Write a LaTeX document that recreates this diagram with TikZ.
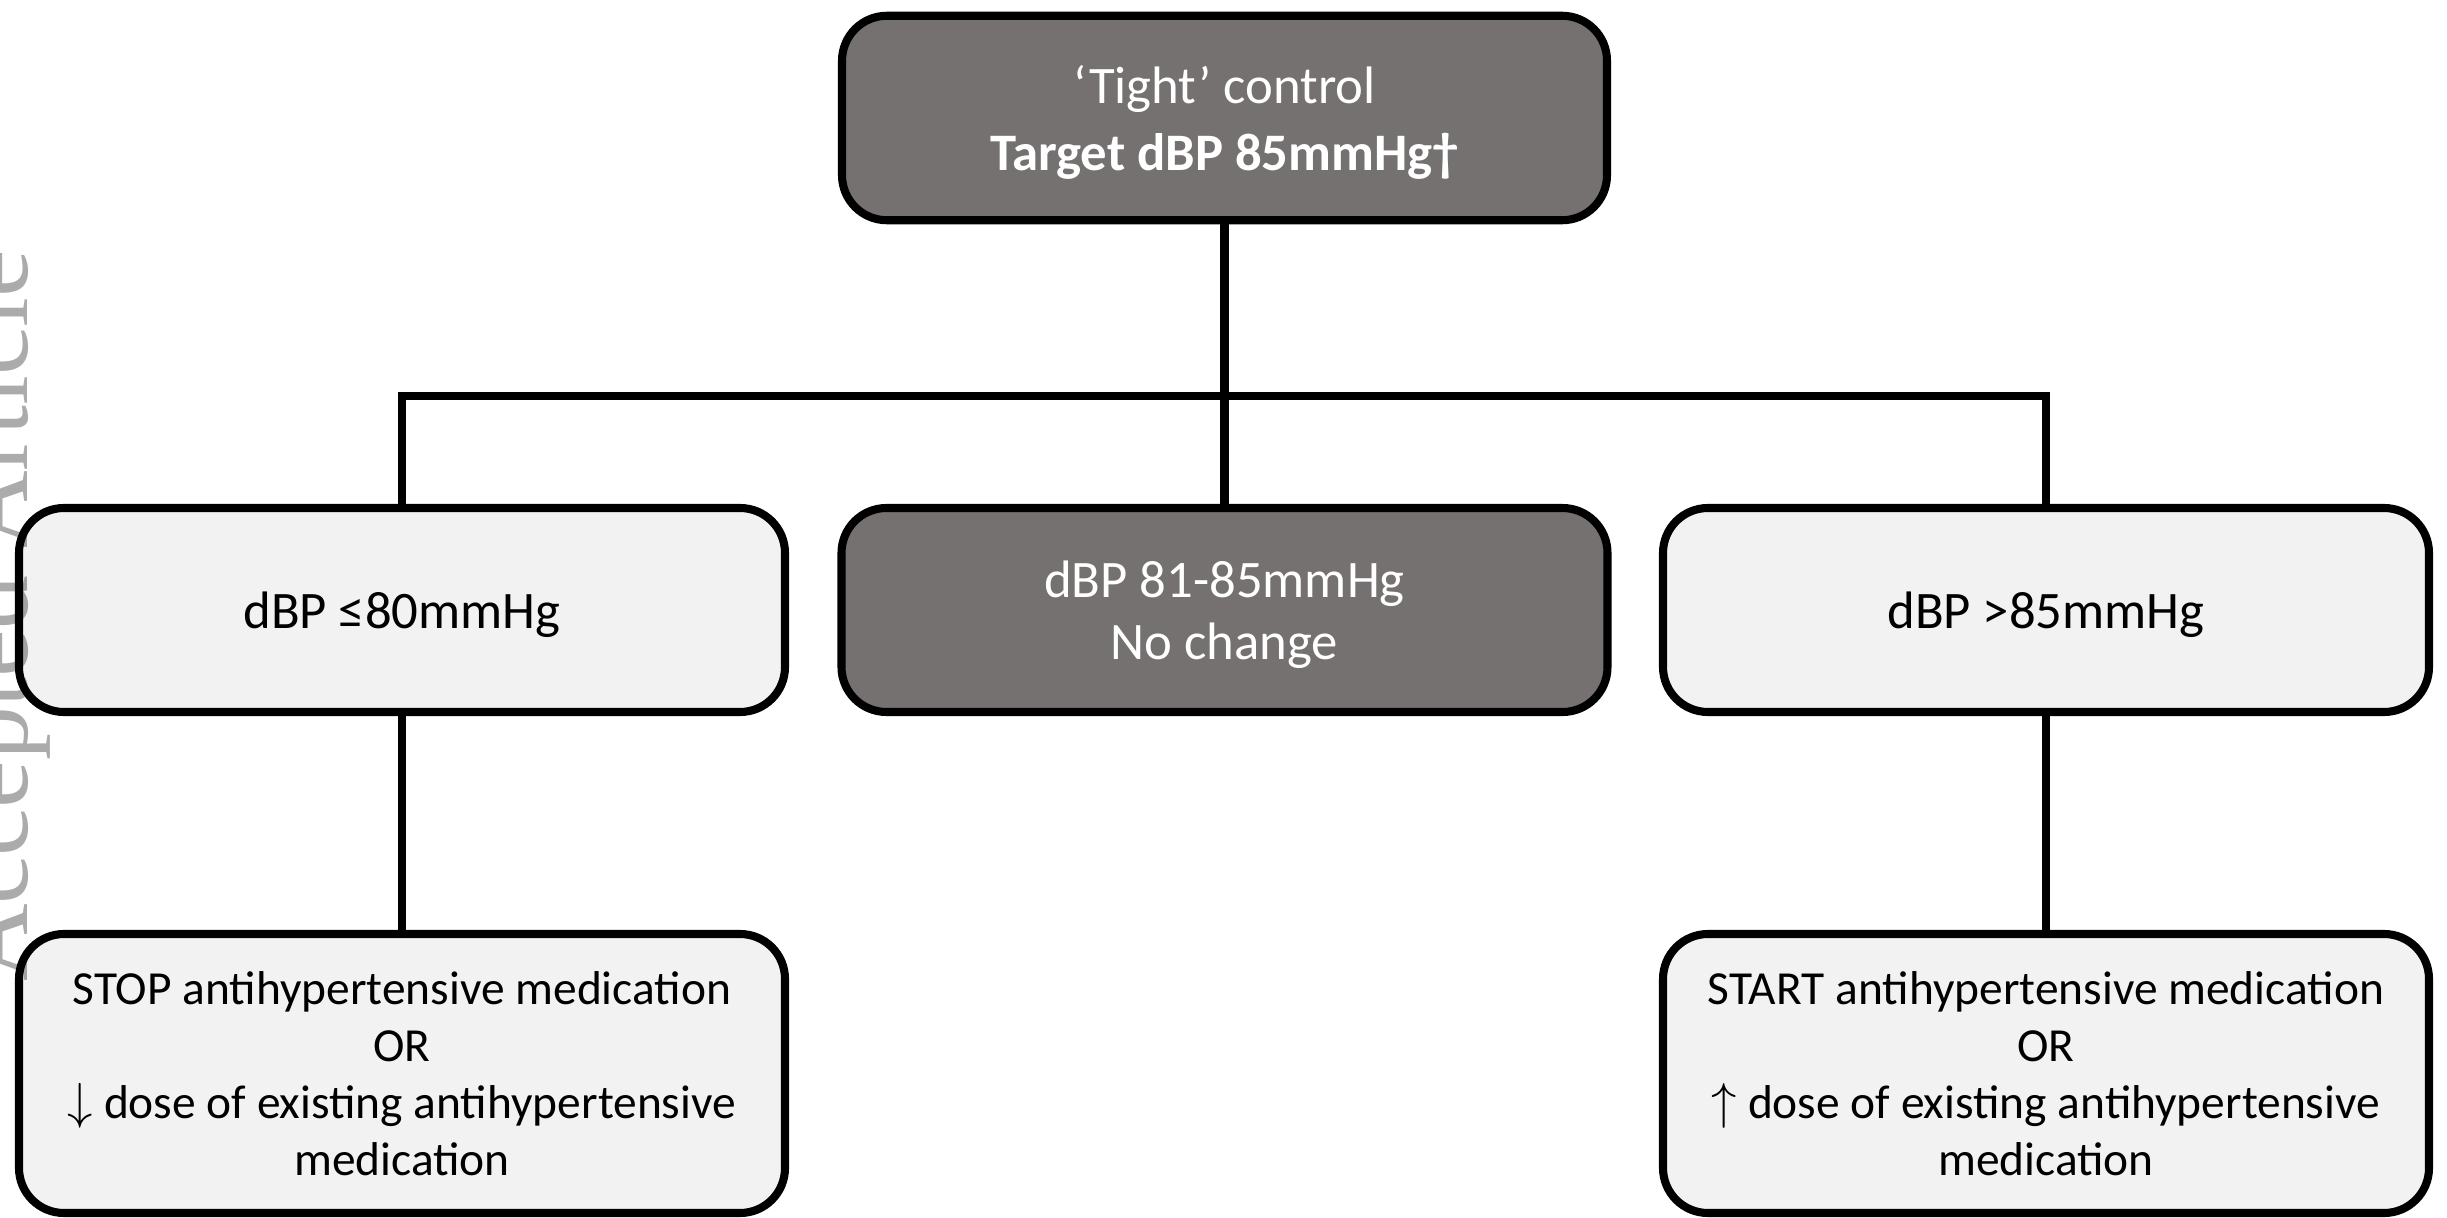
\documentclass[tikz,border=0pt]{standalone}
\usepackage{fontspec}
\setmainfont{Carlito}
\newfontfamily\stampfont{Liberation Serif}
\usepackage{tikz}
\usetikzlibrary{positioning, calc}
\usepackage{xcolor}
\definecolor{boxdark}{RGB}{117,113,113}
\definecolor{boxlight}{RGB}{242,242,242}
\tikzset{
  darkbox/.style={rectangle, rounded corners=0.45cm, draw=black, fill=boxdark,
                  line width=2.3pt, text=white, align=center, inner sep=0pt,
                  text depth=0pt},
  lightbox/.style={rectangle, rounded corners=0.45cm, draw=black, fill=boxlight,
                  line width=2.3pt, text=black, align=center, inner sep=0pt},
  rowbox/.style={minimum width=7.66cm, minimum height=2.04cm, text depth=0pt,
                 font=\fontsize{15}{17.8}\selectfont},
  actbox/.style={minimum width=7.66cm, minimum height=2.79cm,
                 font=\fontsize{13.5}{16.2}\selectfont},
  link/.style={line width=2.3pt},
}

\begin{document}
\begin{tikzpicture}
    \useasboundingbox (0,0) rectangle (24.47,12.17);
    %% target at the top
    \node[darkbox, minimum width=7.65cm, minimum height=2.045cm,
          font=\fontsize{15}{19}\selectfont] (target) at (12.245,10.99)
      {‘Tight’ control\\ \textbf{Target dBP 85mmHg†}};
    %% three dBP ranges
    \node[lightbox, rowbox] (low)  at (4.02,6.07)   {dBP ≤80mmHg};
    \node[darkbox, rowbox]  (mid)  at (12.245,6.07) {dBP 81-85mmHg\\ No change};
    \node[lightbox, rowbox] (high) at (20.46,6.07)  {dBP >85mmHg};
    %% actions
    \node[lightbox, actbox] (stopbox) at (4.02,1.435)
      {STOP antihypertensive medication\\ OR\\
       $\downarrow$ dose of existing antihypertensive\\ medication};
    \node[lightbox, actbox] (startbox) at (20.46,1.435)
      {START antihypertensive medication\\ OR\\
       $\uparrow$ dose of existing antihypertensive\\ medication};
    %% connectors
    \coordinate (bus) at (12.245,8.21);
    \draw[link] (target.south) -- (mid.north);
    \draw[link] (low.north) -- (low.north |- bus) -- (high.north |- bus) -- (high.north);
    \draw[link] (low.south) -- (stopbox.north);
    \draw[link] (high.south) -- (startbox.north);
    %% stamp on the left edge
    \begin{scope}
      \clip (0,0) rectangle (24.47,12.17);
      \node[rotate=90, anchor=base, inner sep=0pt, text=black, text opacity=0.33,
            font=\stampfont\fontsize{30.6}{31}\selectfont] (stamp) at (0.28,6.01)
        {Accepted Article};
    \end{scope}
\end{tikzpicture}
\end{document}
